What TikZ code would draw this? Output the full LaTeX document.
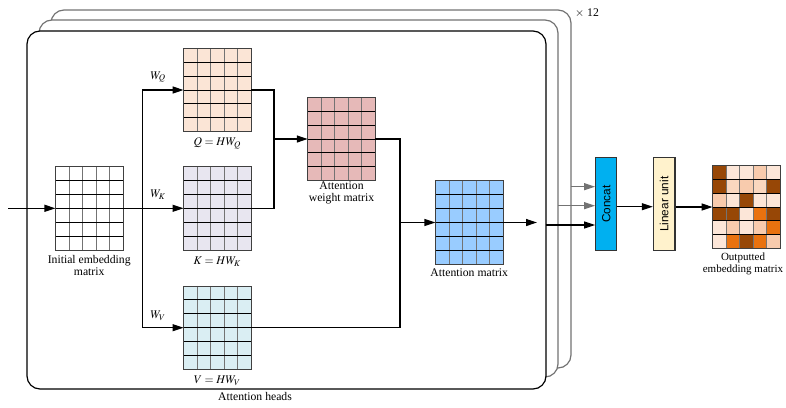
\documentclass[tikz,border=0pt]{standalone}
\usepackage{mathptmx}
\usepackage{fontspec}
\setmainfont{Liberation Serif}
\setsansfont{Liberation Sans}
\usetikzlibrary{calc,arrows.meta}
\definecolor{qcol}{HTML}{FBE5D6}
\definecolor{kcol}{HTML}{E8E6F0}
\definecolor{vcol}{HTML}{DAEEF3}
\definecolor{wcol}{HTML}{E6B9B8}
\definecolor{acol}{HTML}{99CCFF}
\definecolor{concatcol}{HTML}{00B0F0}
\definecolor{lincol}{HTML}{FFF2CC}
\definecolor{ocD}{HTML}{974706}
\definecolor{ocL}{HTML}{FCE6D8}
\definecolor{ocM}{HTML}{FAD7BF}
\definecolor{ocP}{HTML}{F8CBAD}
\definecolor{ocO}{HTML}{E9720F}
\tikzset{
 matbox/.style={draw=black!75, line width=0.9pt, minimum width=67.5pt, minimum height=83.5pt, inner sep=0pt, outer sep=0pt},
 vline/.style={draw=black!55, line width=0.9pt},
 hline/.style={draw=black, line width=1pt},
 conn/.style={draw=black, line width=1.2pt},
 arr/.style={conn, -{Triangle[length=11pt,width=7pt]}},
 garr/.style={draw=black!55, line width=1.2pt, -{Triangle[length=11pt,width=7pt]}},
 lbl/.style={font=\fontsize{11.7}{12.5}\selectfont, inner sep=0pt, align=center},
 stackbox/.style={line width=1.2pt, rounded corners=13pt, fill=white},
 opbox/.style={draw=black!80, line width=1.2pt, minimum width=21pt, minimum height=93pt, inner sep=0pt},
 optext/.style={rotate=90, font=\sffamily\fontsize{11.8}{12.5}\selectfont, inner sep=0pt},
}
\newcommand\gridlines[1]{%
 \foreach \i in {1,...,4} \draw[vline] ($(#1.north west)!\i/5!(#1.north east)$) -- ($(#1.south west)!\i/5!(#1.south east)$);
 \foreach \j in {1,...,5} \draw[hline] ($(#1.north west)!\j/6!(#1.south west)$) -- ($(#1.north east)!\j/6!(#1.south east)$);
 \draw[draw=black!75, line width=0.9pt] (#1.north west) rectangle (#1.south east);
}
\newcommand\mymat[4]{%
 \node[matbox, fill=#4] (#1) at (#2,#3) {};
 \gridlines{#1}
}
\begin{document}
\begin{tikzpicture}[x=1pt,y=-1pt]
\useasboundingbox (0,0) rectangle (786,407);
% stacked head boxes
\draw[stackbox, draw=black!55] (51,10) rectangle (571,368);
\draw[stackbox, draw=black!55] (39,20) rectangle (558,377);
\draw[stackbox, draw=black] (27,31) rectangle (546,389);
\node[lbl] (times) at (587,13) {$\times$ 12};
% matrices
\mymat{init}{89.2}{208.3}{white}
\mymat{Q}{217.3}{90}{qcol}
\mymat{K}{217.3}{208.3}{kcol}
\mymat{V}{217.3}{327.7}{vcol}
\mymat{W}{341.5}{139}{wcol}
\mymat{A}{469.2}{222.5}{acol}
% labels
\node[lbl] (initl) at (89.2,265.5) {Initial embedding\\matrix};
\node[lbl] (ql) at (217.3,143.5) {$Q = HW_Q$};
\node[lbl] (kl) at (217.3,262) {$K = HW_K$};
\node[lbl] (vl) at (217.3,380.5) {$V = HW_V$};
\node[lbl] (wl) at (341.5,193) {Attention\\weight matrix};
\node[lbl] (al) at (469.2,272.5) {Attention matrix};
\node[lbl] (hl) at (255,396.5) {Attention heads};
\node[lbl] (wq) at (158,77) {$W_Q$};
\node[lbl] (wk) at (158,195) {$W_K$};
\node[lbl] (wv) at (158,316) {$W_V$};
% connectors
\coordinate (in) at (8,208.3);
\coordinate (br) at (142.7,208.3);
\coordinate (jq) at (274,139);
\coordinate (ja) at (400,222.5);
\coordinate (aout) at (537,222.5);
\draw[arr] (in) -- (init.west);
\draw[arr] (init.east) -- (K.west);
\draw[arr] (br) |- (Q.west);
\draw[arr] (br) |- (V.west);
\draw[conn] (Q.east) -| (jq);
\draw[conn] (K.east) -| (jq);
\draw[arr] (jq) -- (W.west);
\draw[conn] (W.east) -| (ja);
\draw[conn] (V.east) -| (ja);
\draw[arr] (ja) -- (A.west);
\draw[arr] (A.east) -- (aout);
% concat and linear
\node[opbox, fill=concatcol] (concat) at (606.2,204.2) {};
\node[optext] (concatt) at (concat) {Concat};
\node[opbox, fill=lincol, minimum width=21.7pt] (lin) at (664.2,204.2) {};
\node[optext] (lint) at (lin) {Linear unit};
\coordinate (s1) at (545.7,225);
\coordinate (s2) at (558,205.7);
\coordinate (s3) at (570.7,186.7);
\draw[arr] (s1) -- (s1 -| concat.west);
\draw[garr] (s2) -- (s2 -| concat.west);
\draw[garr] (s3) -- (s3 -| concat.west);
% output matrix
\node[matbox] (out) at (746.3,207) {};
\foreach [count=\j from 0] \row in {{D,L,L,P,L},{D,M,P,M,D},{P,L,D,L,L},{D,D,L,O,D},{L,P,L,P,O},{L,O,D,O,P}} {
  \foreach [count=\i from 0] \c in \row {
    \fill[oc\c] ($(out.north west)+(\i*13.5,\j*13.9167)$) rectangle ++(13.5,13.9167);
  }
}
\gridlines{out}
\node[lbl, font=\fontsize{11}{12.5}\selectfont] (outl) at (743,264) {Outputted\\embedding matrix};
\coordinate (c2) at ($(concat.east)+(0,2.5)$);
\coordinate (l2) at ($(lin.east)+(0,2.8)$);
\draw[arr] (c2) -- (c2 -| lin.west);
\draw[arr] (l2) -- (l2 -| out.west);
\end{tikzpicture}
\end{document}
